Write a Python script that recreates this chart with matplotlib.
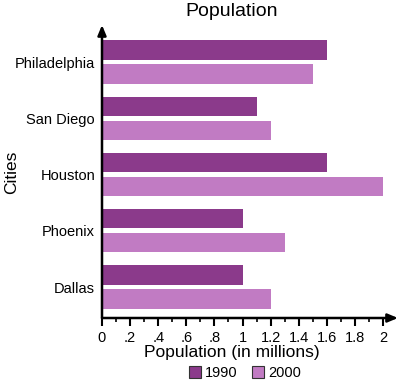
import matplotlib
matplotlib.use("Agg")
import matplotlib.pyplot as plt
from matplotlib.patches import Patch
import numpy as np

plt.rcParams['font.family'] = ['Liberation Sans', 'DejaVu Sans']

cities = ["Dallas", "Phoenix", "Houston", "San Diego", "Philadelphia"]
pop_1990 = [1.0, 1.0, 1.6, 1.1, 1.6]
pop_2000 = [1.2, 1.3, 2.0, 1.2, 1.5]
xtick_values = [0, 0.2, 0.4, 0.6, 0.8, 1.0, 1.2, 1.4, 1.6, 1.8, 2.0]
xtick_labels = ["0", ".2", ".4", ".6", ".8", "1", "1.2", "1.4", "1.6", "1.8", "2"]

c1990 = "#8b3a8b"
c2000 = "#c17bc3"

W, H = 403, 384
fig = plt.figure(figsize=(W / 100, H / 100), dpi=100)
ax = fig.add_axes([102 / W, 1 - 318 / H, (398 - 102) / W, (318 - 25) / H])

y = np.arange(len(cities))
bh = 0.34
off = 0.213
ax.barh(y + off, pop_1990, height=bh, color=c1990, label="1990")
ax.barh(y - off, pop_2000, height=bh, color=c2000, label="2000")

ax.set_xlim(0, 296 / 140.5)
ax.set_ylim(-0.551, 4.658)

for s in ax.spines.values():
    s.set_visible(False)

ax.set_xticks(xtick_values)
ax.set_xticklabels(xtick_labels, fontsize=10.5)
ax.set_xticks(np.arange(0.1, 2.0, 0.2), minor=True)
ax.tick_params(axis='x', which='major', length=6, width=1.5, direction='out', pad=3)
ax.tick_params(axis='x', which='minor', length=3, width=1.2, direction='out')
ax.set_yticks(y)
ax.set_yticklabels(cities, fontsize=10.5)
ax.tick_params(axis='y', length=0, pad=5)

# axis arrows
ap = dict(arrowstyle='-|>,head_length=0.6,head_width=0.25', color='black', lw=1.8,
          shrinkA=0, shrinkB=0)
ax.annotate("", xy=(0, 1), xytext=(0, 0), xycoords='axes fraction',
            textcoords='axes fraction', arrowprops=ap, annotation_clip=False)
ax.annotate("", xy=(1, 0), xytext=(0, 0), xycoords='axes fraction',
            textcoords='axes fraction', arrowprops=ap, annotation_clip=False)

fig.text(232 / W, 1 - 12 / H, "Population", ha='center', va='center', fontsize=14)
fig.text(232 / W, 1 - 353 / H, "Population (in millions)", ha='center', va='center', fontsize=12.5)
fig.text(12 / W, 1 - 172 / H, "Cities", ha='center', va='center', rotation=90, fontsize=12.5)

handles = [Patch(facecolor=c1990, edgecolor='#333333', lw=0.8),
           Patch(facecolor=c2000, edgecolor='#333333', lw=0.8)]
fig.legend(handles, ["1990", "2000"], loc='center', bbox_to_anchor=(245 / W, 1 - 373 / H),
           ncol=2, frameon=False, fontsize=10.5, handlelength=0.8, handleheight=0.8,
           handletextpad=0.3, columnspacing=1.0, borderaxespad=0, borderpad=0)

fig.savefig("out.png", dpi=100)
